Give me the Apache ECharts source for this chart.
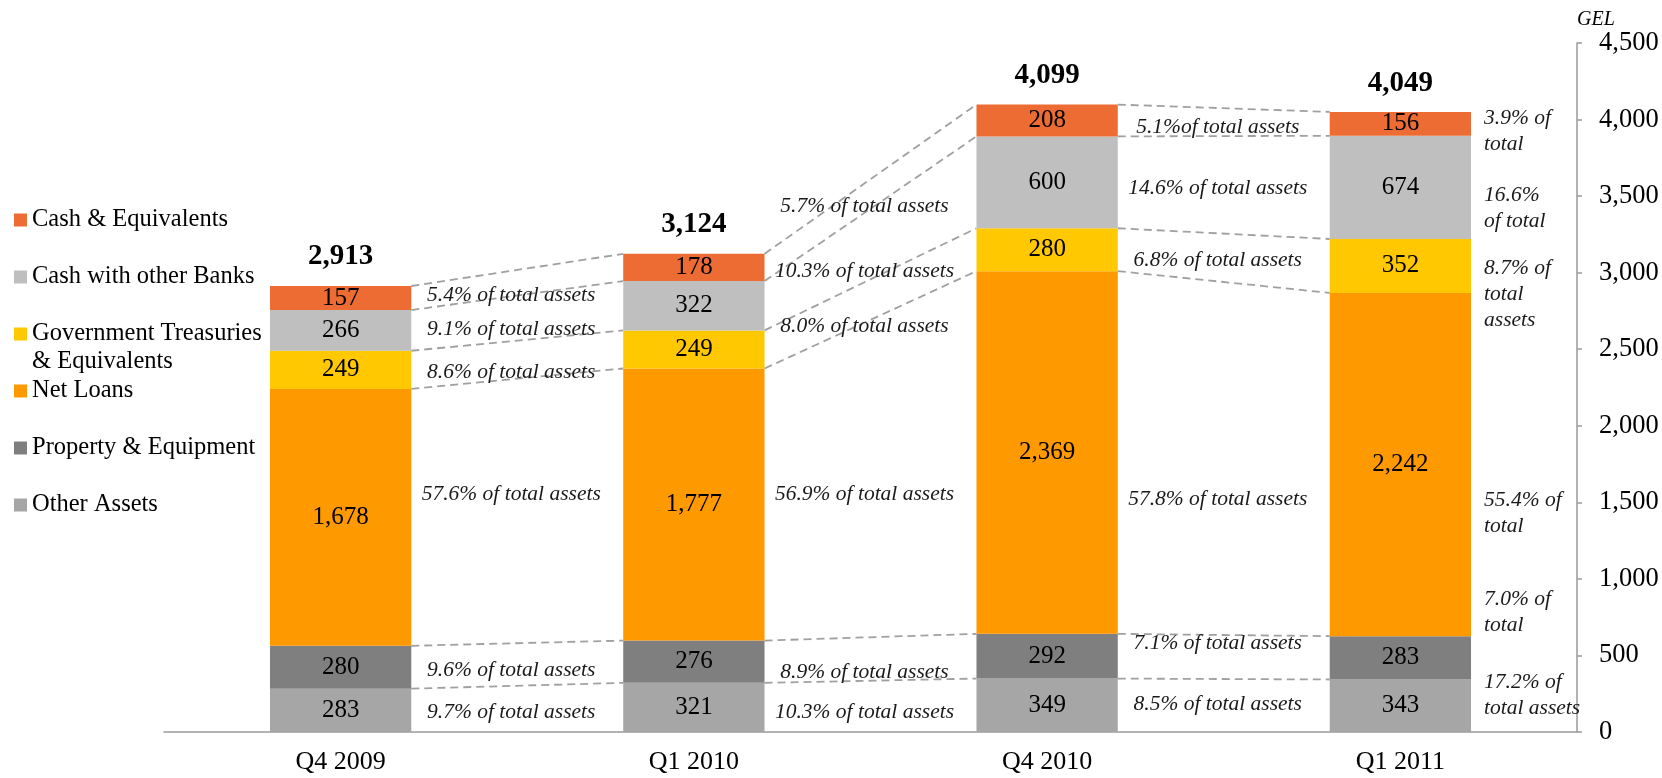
<!DOCTYPE html>
<html>
<head>
<meta charset="utf-8">
<title>Total assets</title>
<script src="https://cdn.jsdelivr.net/npm/echarts@6/dist/echarts.min.js"></script>
<style>
  html, body { margin: 0; padding: 0; background: #fff; }
  #main { width: 1662px; height: 778px; }
</style>
</head>
<body>
<div id="main"></div>
<script>
var categories = ['Q4 2009', 'Q1 2010', 'Q4 2010', 'Q1 2011'];

// GEL mln, bottom of the stack first
var otherAssets = [283, 321, 349, 343];
var property = [280, 276, 292, 283];
var netLoans = [1678, 1777, 2369, 2242];
var govTreasuries = [249, 249, 280, 352];
var cashBanks = [266, 322, 600, 674];
var cashEquiv = [157, 178, 208, 156];
var totals = [2913, 3124, 4099, 4049];

var yTicks = [0, 500, 1000, 1500, 2000, 2500, 3000, 3500, 4000, 4500];

// share notes next to each bar
var otherShare = ['9.7% of total assets', '10.3% of total assets', '8.5% of total assets', '17.2% of\ntotal assets'];
var propertyShare = ['9.6% of total assets', '8.9% of total assets', '7.1% of total assets', '7.0% of\ntotal'];
var loansShare = ['57.6% of total assets', '56.9% of total assets', '57.8% of total assets', '55.4% of\ntotal'];
var govShare = ['8.6% of total assets', '8.0% of total assets', '6.8% of total assets', '8.7% of\ntotal\nassets'];
var banksShare = ['9.1% of total assets', '10.3% of total assets', '14.6% of total assets', '16.6%\nof total'];
var cashShare = ['5.4% of total assets', '5.7% of total assets', '5.1%of total assets', '3.9% of\ntotal'];

// level (GEL) where each note sits
var otherNoteAt = [130, 130, 180, 240];
var propertyNoteAt = [400, 390, 580, 780];
var loansNoteAt = [1550, 1550, 1520, 1430];
var govNoteAt = [2350, 2650, 3080, 2860];
var banksNoteAt = [2630, 3010, 3550, 3420];
var cashNoteAt = [2850, 3430, 3950, 3920];

var names = ['Other Assets', 'Property & Equipment', 'Net Loans',
  'Government Treasuries & Equivalents', 'Cash with other Banks', 'Cash & Equivalents'];
var values = [otherAssets, property, netLoans, govTreasuries, cashBanks, cashEquiv];
var shares = [otherShare, propertyShare, loansShare, govShare, banksShare, cashShare];
var noteAt = [otherNoteAt, propertyNoteAt, loansNoteAt, govNoteAt, banksNoteAt, cashNoteAt];
var colors = ['#A6A6A6', '#7F7F7F', '#FF9900', '#FFC800', '#BFBFBF', '#EC6C33'];

var SERIF = '"Liberation Serif", "Times New Roman", serif';

function fmt(n) {
  return Number(n).toLocaleString('en-US');
}

// running tops of every stack layer
var tops = [];
values.forEach(function (arr, k) {
  tops.push(arr.map(function (v, i) { return v + (k ? tops[k - 1][i] : 0); }));
});

var linkData = [];
tops.forEach(function (row) {
  for (var g = 0; g < categories.length - 1; g++) {
    linkData.push([g, row[g], row[g + 1]]);
  }
});

var noteData = [], noteText = [];
shares.forEach(function (row, k) {
  row.forEach(function (t, i) {
    noteData.push([i, noteAt[k][i]]);
    noteText.push(t);
  });
});

var chart = echarts.init(document.getElementById('main'));

var barSeries = names.map(function (name, k) {
  return {
    name: name,
    type: 'bar',
    stack: 'assets',
    barWidth: '40%',
    itemStyle: { color: colors[k] },
    label: {
      show: true,
      position: 'inside',
      color: '#000',
      fontFamily: SERIF,
      fontSize: 25,
      formatter: function (p) { return fmt(p.value); }
    },
    data: values[k]
  };
});

// legend, top to bottom
var legendOrder = names.slice().reverse();
var legends = legendOrder.map(function (name, k) {
  var lines = name.indexOf('Government') === 0 ? 3 : 1;
  return {
    data: [name],
    orient: 'vertical',
    left: 14,
    top: 220 + 57 * k - lines * 14,
    padding: 0,
    icon: 'rect',
    itemWidth: 13,
    itemHeight: 13,
    selectedMode: false,
    formatter: function (n) {
      return n.indexOf('Government') === 0 ? '\nGovernment Treasuries\n& Equivalents' : n;
    },
    textStyle: { fontFamily: SERIF, fontSize: 24.5, color: '#000', lineHeight: 28 }
  };
});

var option = {
  animation: false,
  backgroundColor: '#fff',
  legend: legends,
  grid: { left: 164, right: 85, top: 43, bottom: 46 },
  xAxis: {
    type: 'category',
    data: categories,
    axisLine: { lineStyle: { color: '#9a9a9a', width: 1.5 } },
    axisTick: { length: 7, lineStyle: { color: '#9a9a9a', width: 1.5 } },
    axisLabel: { color: '#000', fontFamily: SERIF, fontSize: 26, margin: 17 }
  },
  yAxis: {
    type: 'value',
    position: 'right',
    min: yTicks[0],
    max: yTicks[yTicks.length - 1],
    interval: yTicks[1] - yTicks[0],
    name: 'GEL',
    nameLocation: 'end',
    nameGap: 10,
    nameTextStyle: { fontFamily: SERIF, fontStyle: 'italic', fontSize: 20, color: '#000', align: 'left' },
    splitLine: { show: false },
    axisLine: { show: true, lineStyle: { color: '#9a9a9a', width: 1.5 } },
    axisTick: { show: true, length: 5, lineStyle: { color: '#9a9a9a', width: 1.5 } },
    axisLabel: { color: '#000', fontFamily: SERIF, fontSize: 26.5, margin: 22, formatter: fmt }
  },
  series: barSeries.concat([
    {
      // dashed links between the layer tops
      type: 'custom',
      silent: true,
      z: 1,
      data: linkData,
      renderItem: function (params, api) {
        var g = api.value(0);
        var a = api.coord([g, api.value(1)]);
        var b = api.coord([g + 1, api.value(2)]);
        var half = api.size([1, 0])[0] * 0.2;
        return {
          type: 'line',
          shape: { x1: a[0] + half, y1: a[1], x2: b[0] - half, y2: b[1] },
          style: { stroke: '#a0a0a0', lineWidth: 1.8, lineDash: [8, 5] }
        };
      }
    },
    {
      // share notes
      type: 'custom',
      silent: true,
      data: noteData,
      renderItem: function (params, api) {
        var i = api.value(0);
        var p = api.coord([i, api.value(1)]);
        var band = api.size([1, 0])[0];
        var last = i === categories.length - 1;
        return {
          type: 'text',
          x: last ? p[0] + band * 0.2 + 13 : p[0] + band / 2 - 6,
          y: p[1],
          style: {
            text: noteText[params.dataIndex],
            fontFamily: SERIF,
            fontStyle: 'italic',
            fontSize: 21.5,
            lineHeight: 26,
            fill: '#1a1a1a',
            align: last ? 'left' : 'center',
            verticalAlign: 'middle'
          }
        };
      }
    },
    {
      // totals on top
      type: 'custom',
      silent: true,
      data: totals.map(function (t, i) { return [i, t]; }),
      renderItem: function (params, api) {
        var p = api.coord([api.value(0), api.value(1)]);
        return {
          type: 'text',
          x: p[0],
          y: p[1] - 29,
          style: {
            text: fmt(api.value(1)),
            fontFamily: SERIF,
            fontWeight: 'bold',
            fontSize: 29,
            fill: '#000',
            align: 'center',
            verticalAlign: 'middle'
          }
        };
      }
    }
  ])
};

chart.setOption(option);
</script>
</body>
</html>
